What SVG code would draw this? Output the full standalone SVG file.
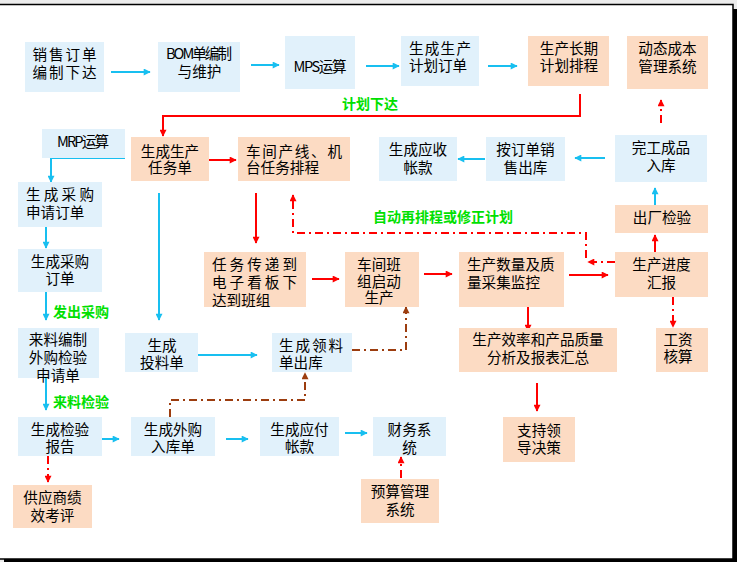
<svg xmlns="http://www.w3.org/2000/svg" width="737" height="562" viewBox="0 0 737 562">
<style>
.b{fill:#e1f1fb}
.p{fill:#fcdbc3}
text{font-family:"Noto Sans CJK SC","Noto Sans",sans-serif;font-size:14.6px;fill:#000}
.c{text-anchor:middle}
.g{font-weight:bold;fill:#00e000;font-size:14px}
.lc{fill:none;stroke:#18bff0;stroke-width:2}
.lr{fill:none;stroke:#ff0000;stroke-width:2}
.dr{fill:none;stroke:#ff0000;stroke-width:2;stroke-dasharray:8,4,2,4}
.db{fill:none;stroke:#9c3d0f;stroke-width:2;stroke-dasharray:8,4,2,4}
</style>
<defs>
<marker id="ac" viewBox="0 0 10 10" refX="9" refY="5" markerWidth="8" markerHeight="7" markerUnits="userSpaceOnUse" orient="auto"><path d="M0,0 L10,5 L0,10 z" fill="#18bff0"/></marker>
<marker id="ar" viewBox="0 0 10 10" refX="9" refY="5" markerWidth="8" markerHeight="7" markerUnits="userSpaceOnUse" orient="auto"><path d="M0,0 L10,5 L0,10 z" fill="#ff0000"/></marker>
<marker id="ab" viewBox="0 0 10 10" refX="9" refY="5" markerWidth="8" markerHeight="7" markerUnits="userSpaceOnUse" orient="auto"><path d="M0,0 L10,5 L0,10 z" fill="#9c3d0f"/></marker>
</defs>
<rect x="0" y="0" width="737" height="562" fill="#ececec"/>
<rect x="4" y="9" width="733" height="553" fill="#000"/>
<rect x="-1" y="4.5" width="734" height="554.5" fill="#fff" stroke="#000" stroke-width="1.5"/>

<g id="connectors">
<path class="lc" marker-end="url(#ac)" d="M111,72 H150"/>
<path class="lc" marker-end="url(#ac)" d="M251,65 H279"/>
<path class="lc" marker-end="url(#ac)" d="M366,66 H399"/>
<path class="lc" marker-end="url(#ac)" d="M488,66 H517"/>
<path class="lc" marker-end="url(#ac)" d="M605,158 H575"/>
<path class="lc" marker-end="url(#ac)" d="M485,159 H458"/>
<path class="lc" marker-end="url(#ac)" d="M655,205 V188"/>
<path class="lc" marker-end="url(#ac)" d="M125,158 H51 V182"/>
<path class="lc" marker-end="url(#ac)" d="M46,227 V248"/>
<path class="lc" marker-end="url(#ac)" d="M46,292 V320"/>
<path class="lc" marker-end="url(#ac)" d="M46,378 V410"/>
<path class="lc" marker-end="url(#ac)" d="M159,193 V320"/>
<path class="lc" marker-end="url(#ac)" d="M198,355 H257"/>
<path class="lc" marker-end="url(#ac)" d="M100,439 H119"/>
<path class="lc" marker-end="url(#ac)" d="M226,439 H248"/>
<path class="lc" marker-end="url(#ac)" d="M345,433 H367"/>
<path class="lr" marker-end="url(#ar)" d="M580,94 V116 H163 V136"/>
<path class="lr" marker-end="url(#ar)" d="M205,160 H236"/>
<path class="lr" marker-end="url(#ar)" d="M256,193 V243"/>
<path class="lr" marker-end="url(#ar)" d="M312,279 H339"/>
<path class="lr" marker-end="url(#ar)" d="M424,274 H452"/>
<path class="lr" marker-end="url(#ar)" d="M569,275 H608"/>
<path class="lr" marker-end="url(#ar)" d="M655,252 V235"/>
<path class="lr" marker-end="url(#ar)" d="M528,307 V331"/>
<path class="lr" marker-end="url(#ar)" d="M537,383 V411"/>
<path class="dr" marker-end="url(#ar)" d="M661,123 V100"/>
<path class="dr" marker-end="url(#ar)" d="M615,262 H588"/>
<path class="dr" marker-end="url(#ar)" d="M586,258 V233 H293 V195"/>
<path class="dr" marker-end="url(#ar)" d="M673,297 V327"/>
<path class="dr" marker-end="url(#ar)" d="M48,456 V482"/>
<path class="dr" marker-end="url(#ar)" d="M401,478 V457"/>
<path class="db" marker-end="url(#ab)" d="M352,350 H406 V307"/>
<path class="db" marker-end="url(#ab)" d="M170,417 V400 H305 V373"/>
<text class="g" x="342" y="109">计划下达</text>
<text class="g" x="53" y="317">发出采购</text>
<text class="g" x="53" y="407">来料检验</text>
<text class="g" x="373" y="222">自动再排程或修正计划</text>
</g>

<g id="n1"><rect class="b" x="25" y="42" width="79" height="50"/><text class="c" x="64.5" y="59.5" textLength="64">销售订单</text><text class="c" x="64.5" y="78" textLength="64">编制下达</text></g>
<g id="n2"><rect class="b" x="158" y="42" width="82" height="50"/><text class="c" x="199" y="59" textLength="66">BOM单编制</text><text class="c" x="199.5" y="77">与维护</text></g>
<g id="n3"><rect class="b" x="285" y="36" width="70" height="53"/><text class="c" x="320" y="72" textLength="53">MPS运算</text></g>
<g id="n4"><rect class="b" x="401" y="36" width="78" height="50"/><text x="409" y="54" textLength="62">生成生产</text><text x="409" y="71" textLength="58">计划订单</text></g>
<g id="n5"><rect class="p" x="528" y="36" width="81" height="50"/><text class="c" x="569" y="54">生产长期</text><text class="c" x="569" y="71">计划排程</text></g>
<g id="n6"><rect class="p" x="627" y="36" width="81" height="53"/><text class="c" x="667.5" y="54">动态成本</text><text class="c" x="667.5" y="72">管理系统</text></g>
<g id="n7"><rect class="b" x="42" y="129" width="83" height="29"/><text class="c" x="83" y="147" textLength="52">MRP运算</text></g>
<g id="n8"><rect class="p" x="131" y="137" width="78" height="44"/><text class="c" x="170" y="157">生成生产</text><text class="c" x="170" y="173">任务单</text></g>
<g id="n9"><rect class="p" x="238" y="137" width="112" height="44"/><text x="246" y="157" textLength="96">车间产线、机</text><text x="246" y="173">台任务排程</text></g>
<g id="n10"><rect class="b" x="379" y="137" width="78" height="44"/><text class="c" x="418" y="155">生成应收</text><text class="c" x="418" y="173">帐款</text></g>
<g id="n11"><rect class="b" x="486" y="137" width="79" height="44"/><text class="c" x="525.5" y="155">按订单销</text><text class="c" x="525.5" y="173">售出库</text></g>
<g id="n12"><rect class="b" x="615" y="135" width="92" height="47"/><text class="c" x="661" y="153">完工成品</text><text class="c" x="661" y="171">入库</text></g>
<g id="n13"><rect class="b" x="18" y="182" width="84" height="45"/><text x="26" y="200" textLength="68">生成采购</text><text x="26" y="218">申请订单</text></g>
<g id="n14"><rect class="b" x="18" y="249" width="84" height="43"/><text class="c" x="60" y="267">生成采购</text><text class="c" x="60" y="284">订单</text></g>
<g id="n15"><rect class="b" x="18" y="328" width="81" height="50"/><text class="c" x="58" y="345">来料编制</text><text class="c" x="58" y="363">外购检验</text><text class="c" x="58" y="381">申请单</text></g>
<g id="n16"><rect class="b" x="18" y="417" width="84" height="39"/><text class="c" x="60" y="435">生成检验</text><text class="c" x="60" y="452">报告</text></g>
<g id="n17"><rect class="p" x="13" y="485" width="79" height="43"/><text class="c" x="52.5" y="503">供应商绩</text><text class="c" x="52.5" y="521">效考评</text></g>
<g id="n18"><rect class="b" x="125" y="333" width="73" height="39"/><text class="c" x="162" y="351">生成</text><text class="c" x="162" y="368">投料单</text></g>
<g id="n19"><rect class="b" x="272" y="333" width="80" height="39"/><text x="279" y="351" textLength="64">生成领料</text><text x="279" y="368">单出库</text></g>
<g id="n20"><rect class="p" x="204" y="252" width="102" height="55"/><text x="212" y="270" textLength="85">任务传递到</text><text x="212" y="288" textLength="85">电子看板下</text><text x="212" y="306">达到班组</text></g>
<g id="n21"><rect class="p" x="345" y="252" width="74" height="55"/><text class="c" x="379" y="270">车间班</text><text class="c" x="379" y="287">组启动</text><text class="c" x="379" y="303">生产</text></g>
<g id="n22"><rect class="p" x="459" y="252" width="105" height="55"/><text x="467" y="270">生产数量及质</text><text x="467" y="288">量采集监控</text></g>
<g id="n23"><rect class="p" x="615" y="252" width="93" height="45"/><text class="c" x="661.5" y="270">生产进度</text><text class="c" x="661.5" y="288">汇报</text></g>
<g id="n24"><rect class="p" x="615" y="205" width="93" height="28"/><text class="c" x="662" y="223">出厂检验</text></g>
<g id="n25"><rect class="p" x="656" y="328" width="52" height="44"/><text class="c" x="678" y="345">工资</text><text class="c" x="678" y="362">核算</text></g>
<g id="n26"><rect class="p" x="459" y="328" width="158" height="44"/><text class="c" x="538" y="345">生产效率和产品质量</text><text class="c" x="538" y="363">分析及报表汇总</text></g>
<g id="n27"><rect class="p" x="503" y="417" width="72" height="45"/><text class="c" x="539" y="436">支持领</text><text class="c" x="539" y="453">导决策</text></g>
<g id="n28"><rect class="b" x="131" y="417" width="84" height="39"/><text class="c" x="173" y="435">生成外购</text><text class="c" x="173" y="452">入库单</text></g>
<g id="n29"><rect class="b" x="260" y="417" width="79" height="39"/><text class="c" x="299.5" y="435">生成应付</text><text class="c" x="299.5" y="452">帐款</text></g>
<g id="n30"><rect class="b" x="373" y="417" width="73" height="39"/><text class="c" x="409.5" y="435">财务系</text><text class="c" x="409.5" y="453">统</text></g>
<g id="n31"><rect class="p" x="361" y="479" width="78" height="44"/><text class="c" x="400" y="497">预算管理</text><text class="c" x="400" y="515">系统</text></g>
</svg>
